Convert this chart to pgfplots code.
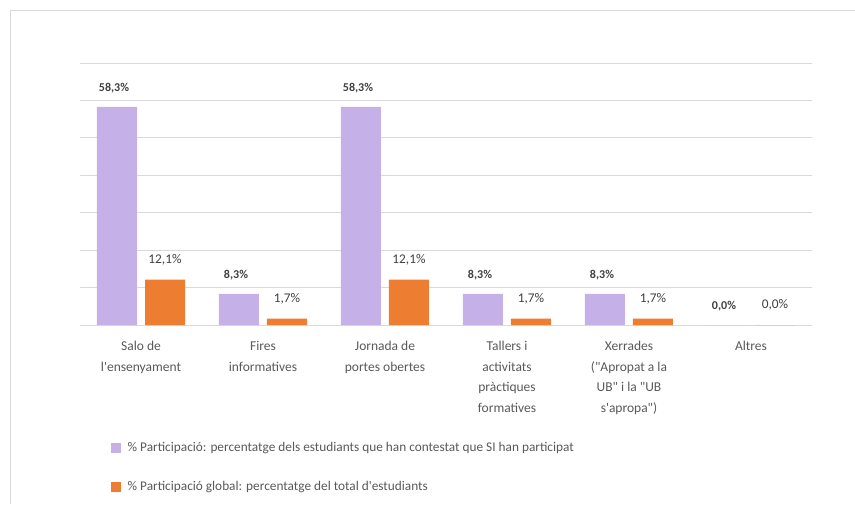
\documentclass[border=0pt]{standalone}
\usepackage{pgfplots}
\pgfplotsset{compat=1.18}
\usepackage{fontspec}
\setmainfont{Carlito}[Ligatures=TeXOff]
\definecolor{lav}{RGB}{198,176,232}
\definecolor{org}{RGB}{237,125,49}
\definecolor{txt}{RGB}{89,89,89}
\definecolor{lbl}{RGB}{64,64,64}
\definecolor{grd}{RGB}{217,217,217}
\begin{document}
\begin{tikzpicture}
\useasboundingbox (0pt,0pt) rectangle (855pt,504pt);
\draw[grd, line width=1pt] (10.5pt,0pt) -- (10.5pt,493.5pt) -- (855pt,493.5pt);
\begin{axis}[
  at={(80pt,179pt)}, anchor=south west,
  scale only axis, width=732pt, height=262pt,
  ymin=0, ymax=70, xmin=-0.5, xmax=5.5,
  ytick={0,10,...,70}, yticklabels={,,,,,,,},
  ymajorgrids, major grid style={grd, line width=0.8pt},
  axis line style={draw=none}, major tick length=0pt,
  xtick={0,...,5},
  xticklabels={{Salo de\\l'ensenyament},{Fires\\informatives},{Jornada de\\portes obertes},{Tallers i\\activitats\\pràctiques\\formatives},{Xerrades\\("Apropat a la\\UB" i la "UB\\s'apropa")},{Altres}},
  xticklabel style={align=center, font=\fontsize{13.5}{20.5}\selectfont, text=txt, yshift=-13pt},
  ybar=8pt, bar width=40pt,
  /pgf/number format/assume math mode=true,
  legend style={at={(0,0)}, anchor=north west, xshift=31pt, yshift=-115pt,
    draw=none, fill=none, inner sep=0pt, row sep=23pt,
    font=\fontsize{13.3}{16}\selectfont, text=txt,
    nodes={inner sep=2.5pt}},
  legend cell align=left,
  legend image code/.code={\fill[#1,draw=none] (0pt,-5pt) rectangle (10pt,5pt); \path (14pt,0pt);},
]
\addplot[fill=lav, draw=none,
  nodes near coords={\pgfmathprintnumber[fixed,fixed zerofill,precision=1,use comma]{\pgfplotspointmeta}\%},
  every node near coord/.append style={font=\bfseries\fontsize{12}{14}\selectfont, text=lbl, anchor=center, yshift=19pt, xshift=-3pt}]
  coordinates {(0,58.3) (1,8.3) (2,58.3) (3,8.3) (4,8.3) (5,0)};
\addplot[fill=org, draw=none,
  nodes near coords={\pgfmathprintnumber[fixed,fixed zerofill,precision=1,use comma]{\pgfplotspointmeta}\%},
  every node near coord/.append style={font=\fontsize{13.3}{15}\selectfont, text=lbl, anchor=center, yshift=20pt}]
  coordinates {(0,12.1) (1,1.7) (2,12.1) (3,1.7) (4,1.7) (5,0)};
\legend{\% Participació: percentatge dels estudiants que han contestat que SI han participat, \% Participació global: percentatge del total d'estudiants}
\end{axis}
\end{tikzpicture}
\end{document}
